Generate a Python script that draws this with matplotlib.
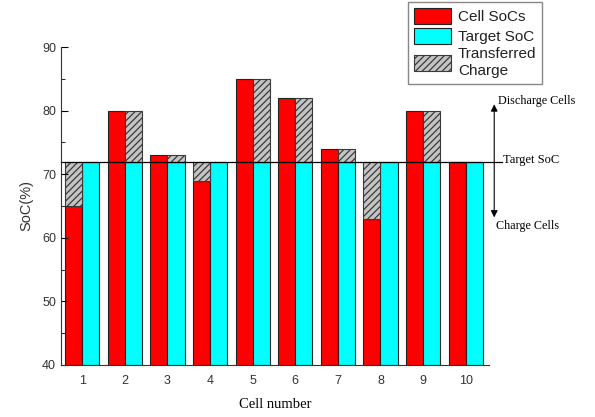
import numpy as np
import matplotlib
matplotlib.use('Agg')
import matplotlib.pyplot as plt
from matplotlib.ticker import MultipleLocator
import matplotlib.transforms as mtrans

cells = np.arange(1, 11)
cell_soc = np.array([65, 80, 73, 69, 85, 82, 74, 63, 80, 72])
target_soc = np.array([72, 72, 72, 72, 72, 72, 72, 72, 72, 72])
target = 72
y_base = 40

plt.rcParams['font.family'] = ['Liberation Sans', 'DejaVu Sans']
plt.rcParams['hatch.linewidth'] = 0.9

fig = plt.figure(figsize=(5.95, 4.17), dpi=100)
ax = fig.add_axes([0.1025, 0.125, 0.7195, 0.762])

w = 0.4
red = ax.bar(cells - w / 2, cell_soc - y_base, w, bottom=y_base, color='#ff0000',
             edgecolor='#222222', linewidth=0.8, label='Cell SoCs')
cyan = ax.bar(cells + w / 2, target_soc - y_base, w, bottom=y_base, color='#00ffff',
              edgecolor='#222222', linewidth=0.8, label='Target SoC')

# transferred charge: above target -> on the target bar, below target -> on the cell bar
over = cell_soc > target
hx = np.where(over, cells + w / 2, cells - w / 2)
hb = np.minimum(cell_soc, target)
hh = np.abs(cell_soc - target)
hatch = ax.bar(hx, hh, w, bottom=hb, color='#c4c4c4', edgecolor='#3a3a3a',
               hatch='/////', linewidth=0.8, label='Transferred\nCharge')

ax.set_xlim(0.5, 10.55)
ax.set_ylim(40, 90)
ax.set_xticks(cells)
ax.yaxis.set_major_locator(MultipleLocator(10))
ax.yaxis.set_minor_locator(MultipleLocator(5))
ax.tick_params(axis='y', which='major', direction='in', length=5, labelsize=9,
               labelcolor='#333333')
ax.tick_params(axis='y', which='minor', direction='in', length=3)
ax.tick_params(axis='x', length=0, labelsize=9, pad=7, labelcolor='#333333')
for s in ['top', 'right']:
    ax.spines[s].set_visible(False)
ax.spines['left'].set_color('#333333')
ax.spines['bottom'].set_color('#333333')

ax.set_ylabel('SoC(%)', fontsize=10.5, labelpad=6, color='#333333')
ax.set_xlabel('Cell number', fontsize=10.5, family='Liberation Serif', labelpad=8)

# target line running past the axes
tr = mtrans.blended_transform_factory(ax.transAxes, ax.transData)
ax.plot([0, 1.03], [target, target], color='black', lw=0.9, transform=tr, clip_on=False)
ax.text(1.032, target + 0.3, 'Target SoC', transform=tr, fontsize=9,
        family='Liberation Serif', va='center', ha='left')
ax.annotate('', xy=(1.012, 81), xytext=(1.012, 63.2), xycoords=tr, textcoords=tr,
            arrowprops=dict(arrowstyle='<|-|>', color='black', lw=0.8,
                            mutation_scale=10, shrinkA=0, shrinkB=0))
ax.text(1.112, 81.6, 'Discharge Cells', transform=tr, fontsize=8.7,
        family='Liberation Serif', va='center', ha='center')
ax.text(1.09, 61.8, 'Charge Cells', transform=tr, fontsize=8.7,
        family='Liberation Serif', va='center', ha='center')

leg = fig.legend(handles=[red, cyan, hatch], loc='upper left',
                 bbox_to_anchor=(0.686, 0.995), borderaxespad=0, fontsize=11,
                 handlelength=2.4, handleheight=1.25, handletextpad=0.45,
                 labelspacing=0.22, fancybox=False, edgecolor='#888888',
                 framealpha=1, borderpad=0.4)
for t in leg.get_texts():
    t.set_color('#222222')

fig.savefig('out.png', dpi=100)
